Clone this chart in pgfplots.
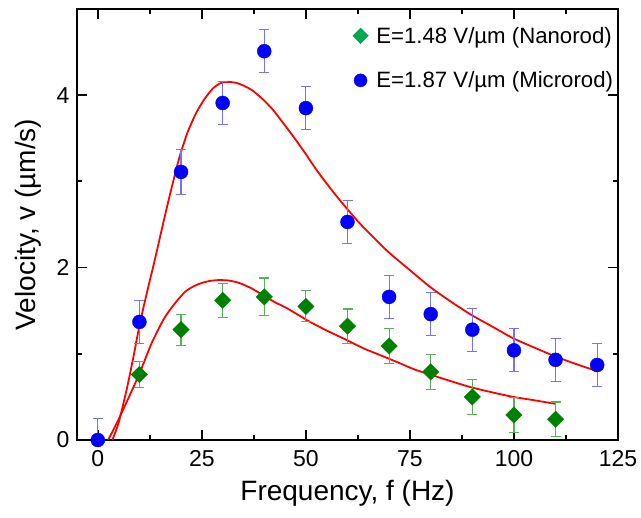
\documentclass[border=0pt]{standalone}
\usepackage{fontspec}
\setmainfont{Liberation Sans}
\usepackage{pgfplots}
\pgfplotsset{compat=1.18}
\definecolor{ptblue}{RGB}{0,0,255}
\definecolor{errblue}{RGB}{115,115,255}
\definecolor{ptgreen}{RGB}{0,128,0}
\definecolor{errgreen}{RGB}{90,175,90}
\definecolor{leggreen}{RGB}{0,168,80}
\definecolor{fitred}{RGB}{255,0,0}

\pgfplotstableread{
x y ey
0 0.00 0.25
10 1.37 0.25
20 3.11 0.26
30 3.91 0.25
40 4.51 0.25
50 3.85 0.25
60 2.53 0.25
70 1.66 0.25
80 1.46 0.25
90 1.28 0.25
100 1.04 0.25
110 0.93 0.25
120 0.87 0.25
}\microrod
\pgfplotstableread{
x y ey
10 0.76 0.15
20 1.28 0.18
30 1.62 0.20
40 1.66 0.22
50 1.55 0.18
60 1.32 0.20
70 1.09 0.20
80 0.79 0.20
90 0.50 0.20
100 0.29 0.20
110 0.24 0.20
}\nanorod

\begin{document}
\begin{tikzpicture}
\path[use as bounding box] (-77pt,-78pt) rectangle (564pt,440pt);
\begin{axis}[
  scale only axis, width=541pt, height=431pt,
  xmin=-5, xmax=125, ymin=0, ymax=5,
  xtick={0,25,50,75,100,125}, ytick={0,2,4},
  minor x tick num=1, minor y tick num=1,
  tick align=inside, major tick length=10pt, minor tick length=5pt,
  axis line style={line width=1.8pt},
  every tick/.style={black, line width=1.8pt},
  tick label style={font=\fontsize{23}{27}\selectfont},
  xticklabel style={yshift=-7pt},
  yticklabel style={xshift=-4pt},
  /pgf/number format/assume math mode=true,
  xlabel={Frequency, f (Hz)}, ylabel={Velocity, v (µm/s)},
  label style={font=\fontsize{28}{33}\selectfont},
  xlabel style={yshift=-7pt},
  ylabel style={yshift=8pt},
  legend style={draw=none, fill=none, at={(axis cs:60.5,4.84)}, anchor=north west,
    font=\fontsize{22.2}{26}\selectfont, row sep=23pt,
    /tikz/every odd column/.append style={column sep=6pt}},
  legend cell align=left,
  clip=true,
]
\addplot[fitred, line width=1.8pt, smooth, tension=0.4, forget plot] coordinates {
(3.5,0) (5,0.2) (7,0.6) (8.5,0.95) (10.1,1.35) (12,1.75) (13.7,2.09) (15.5,2.47)
(17.3,2.84) (19.5,3.26) (21.5,3.56) (23.7,3.80) (25.7,3.96) (27.7,4.08) (29.5,4.14)
(31.3,4.155) (33.5,4.14) (35.5,4.10) (37.3,4.05) (39.7,3.95) (42.1,3.83) (44.5,3.68) (47,3.52) (49.8,3.33) (52.6,3.13)
(55.4,2.95) (58.2,2.78) (63,2.51) (69.4,2.20) (75,1.97) (80,1.77) (85,1.60) (89.8,1.45)
(95,1.31) (99.8,1.18) (105,1.07) (109.9,0.97) (115,0.88) (119.9,0.80)};
\addplot[fitred, line width=1.8pt, smooth, tension=0.4, forget plot] coordinates {
(2.5,0) (5,0.24) (7.5,0.5) (10,0.77) (12.9,1.12) (15.7,1.39) (17.5,1.52) (19.3,1.63) (21,1.72) (22.9,1.78)
(24.9,1.82) (26.9,1.845) (29,1.855) (31.5,1.85) (34.1,1.82) (36.9,1.76) (39.7,1.68) (42.5,1.60) (45.4,1.53) (48.2,1.45) (51,1.37) (55,1.27)
(59.8,1.16) (64,1.06) (68.6,0.97) (72.6,0.89) (76,0.82) (79.8,0.76) (85,0.68)
(89.8,0.61) (95,0.55) (99.8,0.50) (105,0.46) (109.9,0.42)};
\addplot[only marks, mark=square*, mark options={rotate=45}, mark size=5.8pt, color=ptgreen, forget plot,
  error bars/.cd, y dir=both, y explicit,
  error bar style={errgreen, line width=1.2pt},
  error mark options={rotate=90, mark size=5pt, errgreen, line width=1.2pt}]
  table[x=x, y=y, y error=ey] {\nanorod};
\addplot[only marks, mark=*, mark size=7pt, color=ptblue, forget plot,
  error bars/.cd, y dir=both, y explicit,
  error bar style={errblue, line width=1.2pt},
  error mark options={rotate=90, mark size=5pt, errblue, line width=1.2pt}]
  table[x=x, y=y, y error=ey] {\microrod};
\addlegendimage{only marks, mark=square*, mark options={rotate=45}, mark size=5.5pt, leggreen}
\addlegendentry{E=1.48 V/µm (Nanorod)}
\addlegendimage{only marks, mark=*, mark size=6.5pt, ptblue}
\addlegendentry{E=1.87 V/µm (Microrod)}
\end{axis}
\end{tikzpicture}
\end{document}
